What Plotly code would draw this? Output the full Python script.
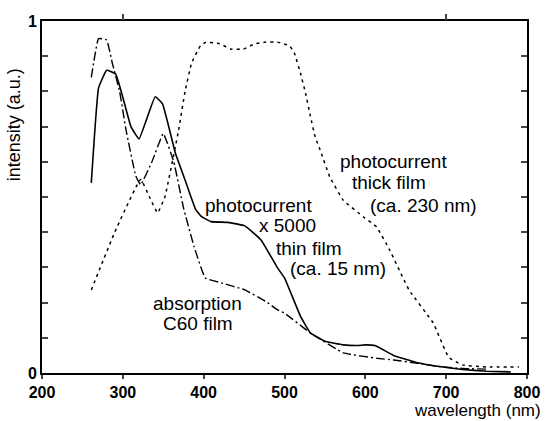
import plotly.graph_objects as go

# photocurrent x5000, thin film (ca. 15 nm) - solid
thin_wl = [261, 270, 280, 291, 298, 310, 320, 340, 349, 365, 377, 390, 397, 409, 430, 451, 471, 491, 500, 520, 532, 550, 573, 590, 600, 612, 635, 663, 696, 720, 750, 780]
thin_y  = [0.54, 0.81, 0.86, 0.85, 0.80, 0.70, 0.665, 0.785, 0.765, 0.625, 0.548, 0.465, 0.445, 0.43, 0.428, 0.418, 0.378, 0.30, 0.27, 0.16, 0.114, 0.09, 0.08, 0.078, 0.08, 0.078, 0.05, 0.03, 0.017, 0.01, 0.005, 0.003]

# photocurrent, thick film (ca. 230 nm) - dashed
thick_wl = [261, 290, 322, 333, 343, 352, 369, 377, 385, 396, 403, 420, 434, 449, 463, 477, 491, 506, 512, 520, 526, 532, 538, 544, 556, 573, 598, 614, 630, 654, 684, 703, 720, 750, 790]
thick_y  = [0.236, 0.40, 0.55, 0.50, 0.455, 0.50, 0.69, 0.80, 0.88, 0.93, 0.94, 0.935, 0.92, 0.92, 0.935, 0.94, 0.94, 0.93, 0.91, 0.85, 0.795, 0.73, 0.67, 0.634, 0.557, 0.49, 0.443, 0.415, 0.35, 0.236, 0.142, 0.045, 0.023, 0.017, 0.017]

# absorption, C60 film - dash-dot
abs_wl = [261, 270, 280, 287, 296, 304, 316, 322, 336, 350, 363, 375, 388, 402, 422, 451, 479, 491, 500, 532, 573, 614, 635, 663, 696, 720, 752]
abs_y  = [0.84, 0.95, 0.946, 0.88, 0.80, 0.69, 0.56, 0.535, 0.60, 0.68, 0.60, 0.47, 0.36, 0.27, 0.256, 0.236, 0.20, 0.18, 0.17, 0.114, 0.057, 0.042, 0.037, 0.028, 0.017, 0.013, 0.011]

x_ticks = [200, 300, 400, 500, 600, 700, 800]
y_ticks = [round(0.1 * i, 1) for i in range(11)]
y_ticktext = ["0"] + [""] * 9 + ["1"]

fig = go.Figure()
fig.add_trace(go.Scatter(x=thin_wl, y=thin_y, mode="lines",
                         line=dict(color="black", width=1.6, shape="spline", smoothing=0.3)))
fig.add_trace(go.Scatter(x=thick_wl, y=thick_y, mode="lines",
                         line=dict(color="black", width=1.5, dash="3px,4px", shape="spline", smoothing=0.3)))
fig.add_trace(go.Scatter(x=abs_wl, y=abs_y, mode="lines",
                         line=dict(color="black", width=1.4, dash="9px,3px,2px,3px", shape="spline", smoothing=0.3)))
# top axis ticks
fig.add_trace(go.Scatter(x=[300, 700], y=[1, 1], xaxis="x2", mode="lines",
                         line=dict(width=0), hoverinfo="skip", showlegend=False))

fig.update_layout(
    width=552, height=421,
    margin=dict(l=42, r=20, t=21, b=48),
    paper_bgcolor="white", plot_bgcolor="white",
    showlegend=False,
    font=dict(family="Liberation Sans, Arial, sans-serif", color="black"),
    xaxis=dict(range=[200, 800], tickvals=x_ticks, ticks="outside", ticklen=4, tickwidth=2,
               showline=True, linewidth=2, linecolor="black", mirror=True, showgrid=False, zeroline=False,
               tickfont=dict(size=16, family="Liberation Sans, Arial", weight="bold")),
    xaxis2=dict(range=[200, 800], overlaying="x", side="top", anchor="y", tickvals=[300, 700],
                ticks="outside", ticklen=6, tickwidth=2, showticklabels=False,
                showline=False, showgrid=False, zeroline=False),
    yaxis=dict(range=[0, 1], tickvals=y_ticks, ticktext=y_ticktext, ticks="inside", ticklen=6, tickwidth=2,
               showline=True, linewidth=2, linecolor="black", mirror="ticks", showgrid=False, zeroline=False,
               tickfont=dict(size=16, family="Liberation Sans, Arial", weight="bold")),
)

L, R, T, B = 42, 532, 21, 373


def px2paper(px, py):
    return (px - L) / (R - L), (B - py) / (B - T)


ann = [
    ("photocurrent", 261, 205), ("x 5000", 290, 225), ("thin film", 311, 248), ("(ca. 15 nm)", 341, 268),
    ("photocurrent", 397, 162), ("thick film", 393, 182), ("(ca. 230 nm)", 427, 205),
    ("absorption", 199, 303), ("C60 film", 200, 323),
]
for text, px, py in ann:
    ax, ay = px2paper(px, py)
    fig.add_annotation(text=text, x=ax, y=ay, xref="paper", yref="paper",
                       showarrow=False, xanchor="center", yanchor="middle",
                       font=dict(size=19, family="Liberation Sans, Arial"))
ax, ay = px2paper(548, 410)
fig.add_annotation(text="wavelength (nm)", x=ax, y=ay, xref="paper", yref="paper",
                   showarrow=False, xanchor="right", yanchor="middle",
                   font=dict(size=17, family="Liberation Sans, Arial"))
ax, ay = px2paper(14, 125)
fig.add_annotation(text="intensity (a.u.)", x=ax, y=ay, xref="paper", yref="paper",
                   showarrow=False, xanchor="center", yanchor="middle", textangle=-90,
                   font=dict(size=18, family="Liberation Sans, Arial"))

fig.write_html("out.html")
